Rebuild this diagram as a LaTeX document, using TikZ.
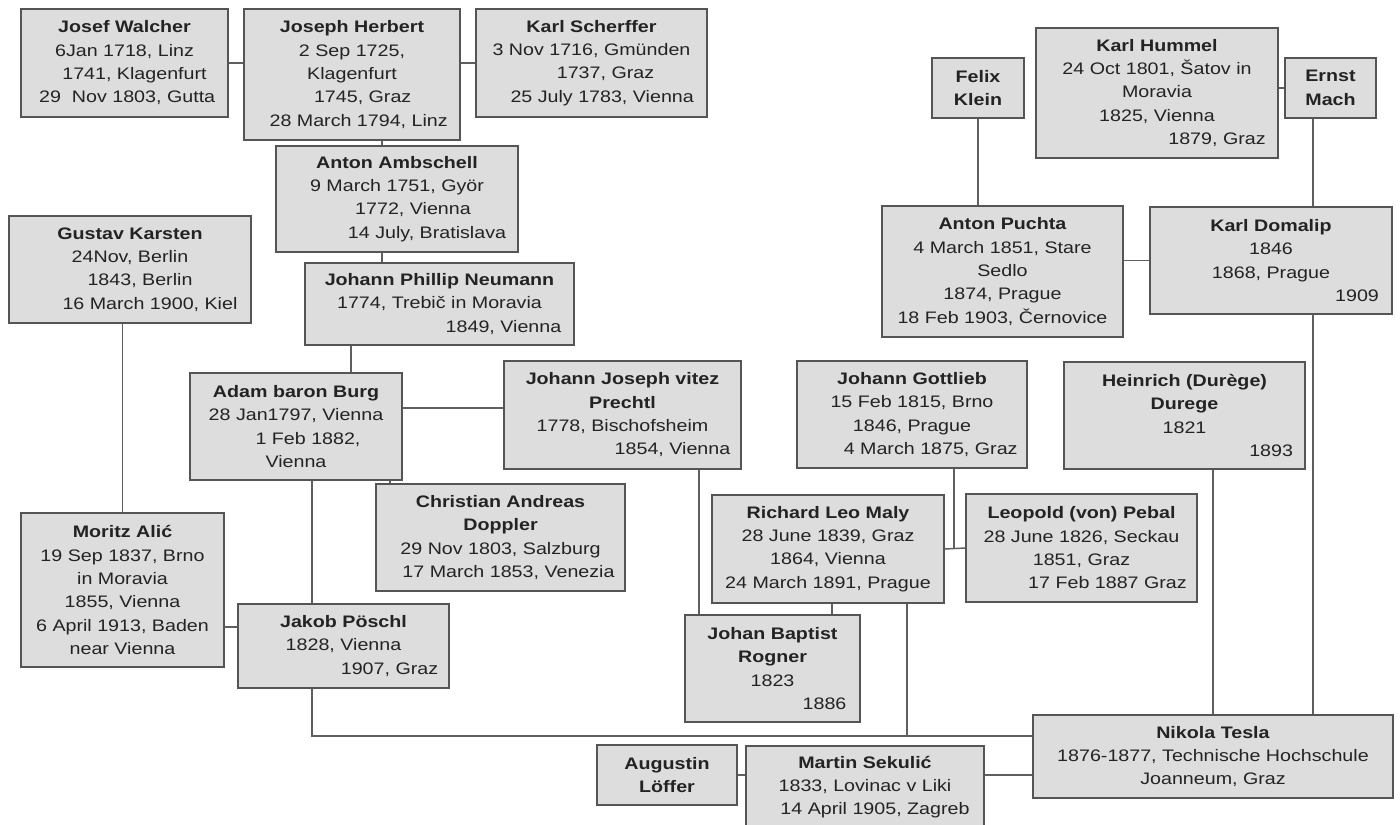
\documentclass[tikz,border=0pt]{standalone}
\usepackage{fontspec}
\setmainfont[FakeStretch=1.18]{Liberation Sans}
\definecolor{boxfill}{RGB}{221,221,221}
\definecolor{boxedge}{RGB}{85,85,85}
\definecolor{linkgray}{RGB}{95,95,95}
\definecolor{inkdark}{RGB}{35,35,35}
\usetikzlibrary{shadows}

\begin{document}
\begin{tikzpicture}[x=0.75pt,y=-0.75pt,
      person/.style={draw=boxedge,fill=boxfill,line width=1.1pt,
                   text=inkdark,align=center,inner sep=0pt,
                   font=\fontsize{12.5}{17.5}\selectfont,
                   drop shadow={opacity=0.3,shadow xshift=1pt,shadow yshift=-1pt}},
      boxsize/.style 2 args={minimum width=#1*0.75pt,minimum height=#2*0.75pt},
      link/.style={draw=linkgray,line width=1.1pt}]
  \useasboundingbox (0,0) rectangle (1400,825);

  \node[person,boxsize={207}{108}] (walcher) at (124.5,63) {\textbf{Josef Walcher}\\6Jan 1718, Linz\\\hspace*{15pt}1741, Klagenfurt\\\hspace*{4pt}29\ \ Nov 1803, Gutta};
  \node[person,boxsize={216}{131}] (herbert) at (352,74.5) {\textbf{Joseph Herbert}\\2 Sep 1725,\\Klagenfurt\\\hspace*{16pt}1745, Graz\\\hspace*{10pt}28 March 1794, Linz};
  \node[person,boxsize={231}{108}] (scherffer) at (591.5,63) {\textbf{Karl Scherffer}\\3 Nov 1716, Gmünden\\\hspace*{21pt}1737, Graz\\\hspace*{16pt}25 July 1783, Vienna};
  \node[person,boxsize={242}{106}] (ambschell) at (397,199) {\textbf{Anton Ambschell}\\9 March 1751, Györ\\\hspace*{24pt}1772, Vienna\\\hspace*{45pt}14 July, Bratislava};
  \node[person,boxsize={242}{107}] (karsten) at (130,269.5) {\textbf{Gustav Karsten}\\24Nov, Berlin\\\hspace*{15pt}1843, Berlin\\\hspace*{30pt}16 March 1900, Kiel};
  \node[person,boxsize={269}{82}] (neumann) at (439.5,304) {\textbf{Johann Phillip Neumann}\\1774, Trebič in Moravia\\\hspace*{96pt}1849, Vienna};
  \node[person,boxsize={212}{107}] (burg) at (296,426.5) {\textbf{Adam baron Burg}\\28 Jan1797, Vienna\\\hspace*{18pt}1 Feb 1882,\\Vienna};
  \node[person,boxsize={237}{108}] (prechtl) at (622.5,415) {\textbf{Johann Joseph vitez}\\\textbf{Prechtl}\\1778, Bischofsheim\\\hspace*{75pt}1854, Vienna};
  \node[person,boxsize={249}{107}] (doppler) at (500.5,537.5) {\textbf{Christian Andreas}\\\textbf{Doppler}\\29 Nov 1803, Salzburg\\\hspace*{12pt}17 March 1853, Venezia};
  \node[person,boxsize={203}{154}] (alic) at (122.5,590) {\textbf{Moritz Alić}\\19 Sep 1837, Brno\\in Moravia\\1855, Vienna\\6 April 1913, Baden\\near Vienna};
  \node[person,boxsize={211}{84}] (poschl) at (343.5,646) {\textbf{Jakob Pöschl}\\1828, Vienna\\\hspace*{69pt}1907, Graz};
  \node[person,boxsize={92}{60}] (klein) at (978,88) {\textbf{Felix}\\\textbf{Klein}};
  \node[person,boxsize={242}{130}] (hummel) at (1157,93) {\textbf{Karl Hummel}\\24 Oct 1801, Šatov in\\Moravia\\1825, Vienna\\\hspace*{90pt}1879, Graz};
  \node[person,boxsize={91}{60}] (mach) at (1330.5,88) {\textbf{Ernst}\\\textbf{Mach}};
  \node[person,boxsize={241}{131}] (puchta) at (1002.5,271.5) {\textbf{Anton Puchta}\\4 March 1851, Stare\\Sedlo\\1874, Prague\\18 Feb 1903, Černovice};
  \node[person,boxsize={242}{107}] (domalip) at (1271,260.5) {\textbf{Karl Domalip}\\1846\\1868, Prague\\\hspace*{129pt}1909};
  \node[person,boxsize={230}{107}] (gottlieb) at (912,414.5) {\textbf{Johann Gottlieb}\\15 Feb 1815, Brno\\1846, Prague\\\hspace*{28pt}4 March 1875, Graz};
  \node[person,boxsize={241}{107}] (durege) at (1184.5,415.5) {\textbf{Heinrich (Durège)}\\\textbf{Durege}\\1821\\\hspace*{130pt}1893};
  \node[person,boxsize={232}{108}] (maly) at (828,549) {\textbf{Richard Leo Maly}\\28 June 1839, Graz\\1864, Vienna\\24 March 1891, Prague};
  \node[person,boxsize={231}{108}] (pebal) at (1081.5,548) {\textbf{Leopold (von) Pebal}\\28 June 1826, Seckau\\1851, Graz\\\hspace*{39pt}17 Feb 1887 Graz};
  \node[person,boxsize={175}{107}] (rogner) at (772.5,668.5) {\textbf{Johan Baptist}\\\textbf{Rogner}\\1823\\\hspace*{78pt}1886};
  \node[person,boxsize={360}{83}] (tesla) at (1213,756.5) {\textbf{Nikola Tesla}\\1876-1877, Technische Hochschule\\Joanneum, Graz};
  \node[person,boxsize={140}{60}] (loffer) at (667,775) {\textbf{Augustin}\\\textbf{Löffer}};
  \node[person,boxsize={238}{82}] (sekulic) at (865,787) {\textbf{Martin Sekulić}\\1833, Lovinac v Liki\\\hspace*{15pt}14 April 1905, Zagreb};

  \coordinate (bus) at (312,736);
  \draw[link] (walcher.east) -- (walcher.east -| herbert.west);
  \draw[link] (scherffer.west -| herbert.east) -- (scherffer.west);
  \draw[link] (herbert.south -| 382,0) -- (ambschell.north -| 382,0);
  \draw[link] (ambschell.south -| 382,0) -- (neumann.north -| 382,0);
  \draw[link] (neumann.south -| 351,0) -- (burg.north -| 351,0);
  \draw[link] (burg.east |- 0,408) -- (prechtl.west |- 0,408);
  \draw[link] (burg.south -| 390,0) -- (doppler.north -| 390,0);
  \draw[link] (burg.south -| 312,0) -- (poschl.north -| 312,0);
  \draw[link] (karsten.south -| alic.north) -- (alic.north);
  \draw[link] (alic.east |- 0,627) -- (poschl.west |- 0,627);
  \draw[link] (poschl.south -| bus) -- (bus) -- (tesla.west |- bus);
  \draw[link] (maly.south -| 907,0) -- (bus -| 907,0);
  \draw[link] (prechtl.south -| 699,0) -- (rogner.north -| 699,0);
  \draw[link] (maly.south -| 832,0) -- (rogner.north -| 832,0);
  \draw[link] (maly.east) -- (pebal.west);
  \draw[link] (gottlieb.south -| 954,0) -- (maly.east -| 954,0);
  \draw[link] (durege.south -| tesla.north) -- (tesla.north);
  \draw[link] (mach.south -| 1313,0) -- (domalip.north -| 1313,0);
  \draw[link] (domalip.south -| 1313,0) -- (tesla.north -| 1313,0);
  \draw[link] (mach.west -| hummel.east) -- (mach.west);
  \draw[link] (klein.south) -- (klein.south |- puchta.north);
  \draw[link] (domalip.west -| puchta.east) -- (domalip.west);
  \draw[link] (loffer.east) -- (loffer.east -| sekulic.west);
  \draw[link] (sekulic.east |- loffer.east) -- (tesla.west |- loffer.east);
\end{tikzpicture}
\end{document}
